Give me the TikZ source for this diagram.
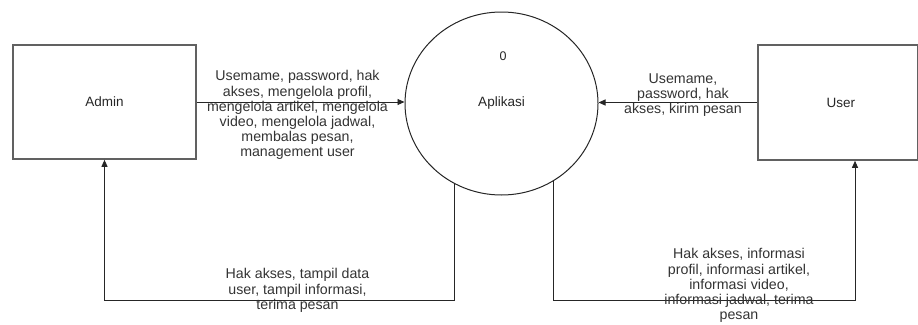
\documentclass[tikz,border=0pt]{standalone}
\usepackage{fontspec}
\setmainfont{Liberation Sans}
\usetikzlibrary{shapes.geometric,arrows.meta,intersections,calc}
\begin{document}
\begin{tikzpicture}[x=1pt,y=-1pt,
  entity/.style={draw=black!62, line width=1.6pt, inner sep=0pt,
                 font=\fontsize{13.5}{16}\selectfont, text=black!85},
  process/.style={ellipse, draw=black!85, line width=1pt, inner sep=0pt,
                  minimum width=193pt, minimum height=183pt,
                  font=\fontsize{13.5}{16}\selectfont, text=black!85},
  flow/.style={draw=black!85, line width=0.9pt,
               -{Triangle[length=7pt,width=6pt]}},
  flowtext/.style={align=center, inner sep=0pt, anchor=north,
                   font=\fontsize{14.2}{15.2}\selectfont, text=black!80}]
\useasboundingbox (0,0) rectangle (918,324);
\clip (0,0) rectangle (918,324);

% external entities and the process
\node[entity, minimum width=183pt, minimum height=114pt] (adm) at (104.5,102) {Admin};
\node[entity, minimum width=159.5pt, minimum height=115pt] (usr) at (837.75,102.5) {\hspace*{6pt}User};
\node[process, name path=appborder] (app) at (501.5,103.5) {Aplikasi};
\node[font=\fontsize{12.5}{14}\selectfont, text=black!85] (appnum) at (503,56) {0};

% helper points for the return flows
\coordinate (low) at (0,300);
\coordinate (usrin) at ($(usr.south)+(17.25,0)$);
\path[name path=vleft] ($(app.center)+(-47.5,0)$) -- ++(0,120);
\path[name path=vright] ($(app.center)+(51.5,0)$) -- ++(0,120);
\path[name intersections={of=vleft and appborder}] coordinate (outl) at (intersection-1);
\path[name intersections={of=vright and appborder}] coordinate (outr) at (intersection-1);

% data flows
\draw[flow] (adm.east) -- (adm.east -| app.west);
\draw[flow] (usr.west) -- (usr.west -| app.east);
\draw[flow] (outl) -- (outl |- low) -| (adm.south);
\draw[flow] (outr) -- (outr |- low) -| (usrin);

% flow labels
\node[flowtext] (tadm) at (297.5,70.5) {Usemame, password, hak\\akses, mengelola profil,\\mengelola artikel, mengelola\\video, mengelola jadwal,\\membalas pesan,\\management user};
\node[flowtext] (tusr) at (683,73.5) {Usemame,\\password, hak\\akses, kirim pesan};
\node[flowtext] (tbl) at (297.5,268.5) {Hak akses, tampil data\\user, tampil informasi,\\terima pesan};
\node[flowtext] (tbr) at (739,248.5) {Hak akses, informasi\\profil, informasi artikel,\\informasi video,\\informasi jadwal, terima\\pesan};
\end{tikzpicture}
\end{document}
